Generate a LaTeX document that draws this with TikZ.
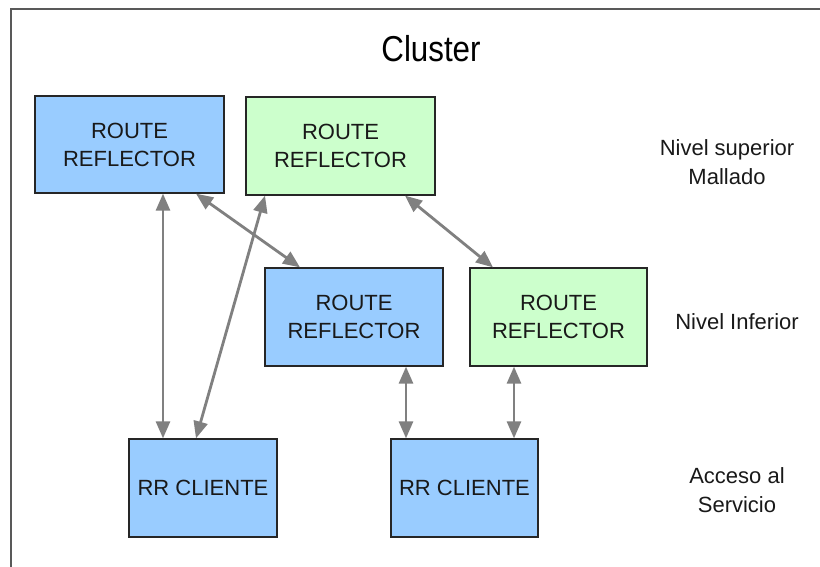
\documentclass[tikz,border=0pt]{standalone}
\usepackage{fontspec}
\setmainfont{Liberation Sans}
\newfontfamily\titlefont[FakeStretch=0.87]{Liberation Sans}
\usetikzlibrary{arrows.meta}
\definecolor{rrazul}{RGB}{153,204,255}
\definecolor{rrverde}{RGB}{204,255,204}
\definecolor{flecha}{RGB}{128,128,128}
\tikzset{
rrbox/.style={
	  draw=black!85, line width=1.3pt, align=center, inner sep=0pt,
	    font=\fontsize{22}{28}\selectfont, text=black!90},
rrazul/.style={rrbox, fill=rrazul},
rrverde/.style={rrbox, fill=rrverde},
nivel/.style={align=center, font=\fontsize{22}{29}\selectfont, text=black!90},
link/.style={draw=flecha, line width=2.8pt,
	  {Triangle[length=17pt,width=14pt]}-{Triangle[length=17pt,width=14pt]}}
}

\begin{document}
\begin{tikzpicture}[x=1pt, y=-1pt]
	\clip (0,0) rectangle (820,567);
	\fill[white] (0,0) rectangle (820,567);
	\draw[black!65, line width=1.5pt] (11,9) rectangle (840,590);
	\node (titulo) at (431,49) {\titlefont\fontsize{36}{40}\selectfont Cluster};
	% nivel superior
	\node[rrazul, minimum width=189pt, minimum height=97pt] (rrA) at (129.5,144.5) {ROUTE\\REFLECTOR};
	\node[rrverde, minimum width=189pt, minimum height=98pt] (rrB) at (340.5,146) {ROUTE\\REFLECTOR};
	% nivel inferior
	\node[rrazul, minimum width=178pt, minimum height=98pt] (rrC) at (354,317) {ROUTE\\REFLECTOR};
	\node[rrverde, minimum width=177pt, minimum height=98pt] (rrD) at (558.5,317) {ROUTE\\REFLECTOR};
	% clientes
	\node[rrazul, minimum width=148pt, minimum height=98pt] (clienteA) at (203,488) {RR CLIENTE};
	\node[rrazul, minimum width=147pt, minimum height=98pt] (clienteB) at (464.5,488) {RR CLIENTE};
	\node[nivel] (superior) at (727,162) {Nivel superior\\Mallado};
	\node[nivel] (inferior) at (737,322) {Nivel Inferior};
	\node[nivel] (acceso) at (737,490) {Acceso al\\Servicio};
	\draw[link] ([xshift=33.5pt]rrA.south) -- ([xshift=-40pt]clienteA.north);
	\draw[link] ([xshift=-75.5pt]rrB.south) -- ([xshift=-7pt]clienteA.north);
	\draw[link] ([xshift=66.5pt]rrA.south) -- ([xshift=-54pt]rrC.north);
	\draw[link] ([xshift=64.5pt]rrB.south) -- ([xshift=-65.5pt]rrD.north);
	\draw[link] ([xshift=52pt]rrC.south) -- ([xshift=-58.5pt]clienteB.north);
	\draw[link] ([xshift=-44.5pt]rrD.south) -- ([xshift=49.5pt]clienteB.north);
\end{tikzpicture}
\end{document}
